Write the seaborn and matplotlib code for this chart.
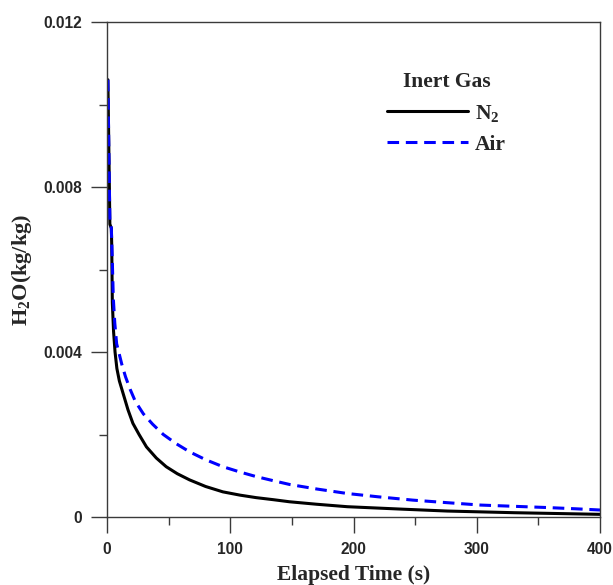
import numpy as np
import pandas as pd
import seaborn as sns
import matplotlib
matplotlib.use("Agg")
import matplotlib.pyplot as plt
from matplotlib.ticker import MultipleLocator, FixedFormatter, FixedLocator

# Moisture content during drying with two inert gases
time_n2 = [0.7, 1.2, 1.8, 2.3, 3.5, 3.8, 4.3, 5.3, 6.5, 8, 10, 13, 17, 21, 26,
           32, 40, 48, 57, 67, 80, 94, 108, 121, 135, 148, 170, 195, 240, 276,
           330, 400]
h2o_n2 = [0.0106, 0.0095, 0.0082, 0.0071, 0.0070, 0.0066, 0.0052, 0.0045,
          0.0040, 0.0036, 0.0033, 0.0030, 0.0026, 0.00227, 0.0020, 0.0017,
          0.00143, 0.00122, 0.00105, 0.0009, 0.00074, 0.00061, 0.00053,
          0.00047, 0.00042, 0.00037, 0.00031, 0.00025, 0.00019, 0.000145,
          0.000105, 0.000065]

time_air = [0.7, 1.2, 1.8, 2.3, 3.5, 4.2, 5.1, 6.3, 7.8, 9.5, 12, 15, 18.7, 23,
            29.5, 37, 45.7, 56, 67, 80, 94, 108, 121, 135, 148, 170, 195, 220,
            248, 275, 303, 330, 357, 380, 400]
h2o_air = [0.0106, 0.0095, 0.0082, 0.0072, 0.0070, 0.0063, 0.0053, 0.0047,
           0.0042, 0.0040, 0.0037, 0.0034, 0.0031, 0.0028, 0.0025, 0.00225,
           0.0020, 0.00178, 0.00158, 0.00139, 0.00122, 0.00109, 0.00098,
           0.00088, 0.00079, 0.00068, 0.00057, 0.00049, 0.00041, 0.00035,
           0.00029, 0.00026, 0.00023, 0.0002, 0.00017]

x_ticks = [0, 100, 200, 300, 400]
y_ticks = [0, 0.004, 0.008, 0.012]
y_tick_labels = ["0", "0.004", "0.008", "0.012"]

sns.set_style("ticks")
plt.rcParams["mathtext.fontset"] = "custom"
plt.rcParams["mathtext.rm"] = "Liberation Serif:bold"
plt.rcParams["mathtext.bf"] = "Liberation Serif:bold"
plt.rcParams["mathtext.it"] = "Liberation Serif:bold"

fig = plt.figure(figsize=(6.13, 5.85), dpi=100)
ax = fig.add_axes([0.1746, 0.1162, 0.8042, 0.8462])

df_n2 = pd.DataFrame({"t": time_n2, "h": h2o_n2})
df_air = pd.DataFrame({"t": time_air, "h": h2o_air})

sns.lineplot(data=df_n2, x="t", y="h", ax=ax, color="black", linewidth=2.2,
             label=r"$\mathbf{N_2}$")
sns.lineplot(data=df_air, x="t", y="h", ax=ax, color="#0000ff", linewidth=2.2,
             linestyle=(0, (3.8, 2.2)), label="Air")

ax.set_xlim(0, 400)
ax.set_ylim(0, 0.012)

ax.xaxis.set_major_locator(FixedLocator(x_ticks))
ax.xaxis.set_minor_locator(MultipleLocator(50))
ax.yaxis.set_major_locator(FixedLocator(y_ticks))
ax.yaxis.set_major_formatter(FixedFormatter(y_tick_labels))
ax.yaxis.set_minor_locator(MultipleLocator(0.002))

spine_color = "#3a3a3a"
for s in ax.spines.values():
    s.set_color(spine_color)
    s.set_linewidth(1.0)

ax.tick_params(axis="both", which="major", direction="out", length=11.5,
               width=1.0, color=spine_color, pad=6.5)
ax.tick_params(axis="both", which="minor", direction="out", length=5.8,
               width=1.0, color=spine_color)
for lab in ax.get_xticklabels() + ax.get_yticklabels():
    lab.set_fontfamily("Liberation Sans")
    lab.set_fontweight("bold")
    lab.set_fontsize(11.2)

ax.set_xlabel("Elapsed Time (s)", fontfamily="Liberation Serif",
              fontweight="bold", fontsize=15.5, labelpad=6)
ax.set_ylabel(r"$\mathbf{H_2O(kg/kg)}$", fontsize=16, labelpad=7)

leg = ax.legend(loc="upper left", bbox_to_anchor=(0.568, 0.899), frameon=False,
                title="Inert Gas", handlelength=3.75, handletextpad=0.33,
                labelspacing=0.5, borderpad=0, borderaxespad=0,
                prop={"family": "Liberation Serif", "weight": "bold", "size": 15.5})
leg.get_title().set_fontfamily("Liberation Serif")
leg.get_title().set_fontweight("bold")
leg.get_title().set_fontsize(15.5)

fig.savefig("out.png", dpi=100)
